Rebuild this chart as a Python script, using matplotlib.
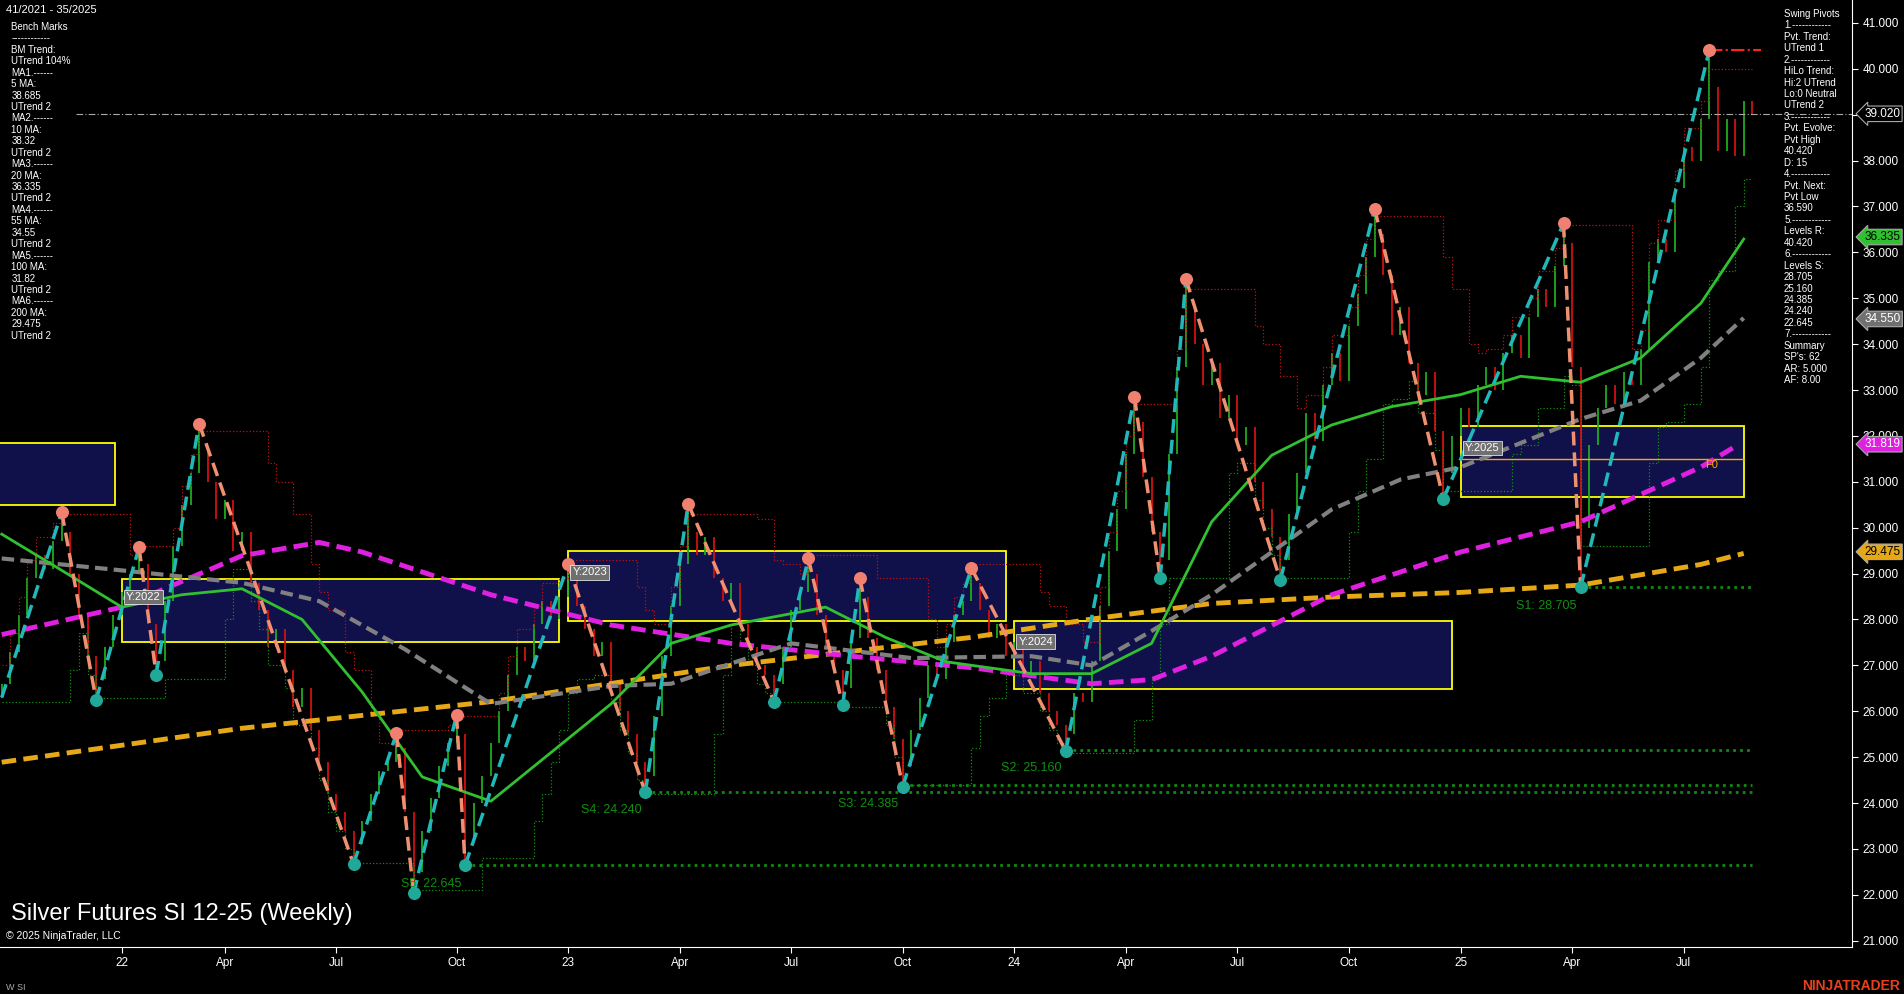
import matplotlib
matplotlib.use('Agg')
import matplotlib.pyplot as plt
import numpy as np
import pandas as pd

# weekly closes, week 41/2021 .. 35/2025
closes = [26.6, 27.3, 28.1, 28.9, 29.4, 29.1, 29.7, 29.9,
          29.0, 28.1, 27.2, 26.7,
          27.4, 28.1, 28.6, 29.0, 29.2,
          27.9, 27.1,
          28.4, 29.6, 30.5, 31.2, 31.7,
          31.0, 30.2, 30.6, 29.5, 29.9, 28.8, 28.2, 27.4, 27.8, 26.9, 26.1, 26.5, 25.6, 24.9, 24.2, 23.8, 23.4, 23.1,
          23.6, 24.2, 24.7, 24.9, 25.2,
          23.8, 22.5,
          23.4, 24.1, 24.8, 25.3, 25.5,
          23.2,
          24.0, 24.6, 25.3, 26.0, 26.8, 27.4, 27.1, 27.9, 28.4, 28.0, 28.5, 28.9,
          28.3, 27.8, 27.2, 27.5, 26.6, 26.0, 25.5, 24.9, 24.6,
          25.9, 27.2, 28.3, 29.2, 29.9,
          29.4, 29.8, 28.9, 28.4, 28.8, 27.9, 27.4, 27.0, 26.8, 26.6,
          27.4, 28.2, 28.6, 29.0,
          28.1, 27.4, 26.9, 26.5,
          27.6, 28.5,
          27.6, 26.9, 26.1, 25.4, 24.8,
          25.6, 26.3, 27.0, 26.7, 27.5, 28.1, 28.4, 28.8,
          28.2, 27.6, 27.9, 27.2, 27.5, 26.8, 27.1, 26.4, 26.0, 25.7, 25.5,
          26.4, 26.2, 27.1, 28.3, 29.5, 30.4, 31.6, 32.3,
          31.1, 29.9, 29.3,
          31.6, 33.5, 34.8,
          34.0, 33.1, 33.6, 32.4, 32.9, 31.8, 32.2, 31.0, 30.4, 29.8, 29.3,
          30.3, 31.2, 32.5, 31.9, 33.1, 33.8, 33.2, 34.4, 35.1, 35.9, 36.4,
          35.5, 34.2, 34.8, 33.6, 32.9, 33.4, 32.1, 31.2,
          32.0, 32.6, 32.2, 33.1, 33.5, 33.0, 33.8, 34.2, 33.7, 34.6, 35.2, 34.8, 35.7, 36.2,
          33.5, 30.0,
          31.8, 32.6, 33.1, 32.7, 33.4, 33.1, 33.9, 35.8, 36.3, 36.0, 37.4, 38.3, 38.0, 38.9, 39.6,
          38.2, 38.9, 38.1, 39.3, 39.02]

# swing pivots (week index, price, 1=high / 0=low)
piv_idx = [0, 7, 11, 16, 18, 23, 41, 46, 48, 53, 54, 66, 75, 80, 90, 94, 98, 100, 105, 113,
           124, 132, 135, 138, 149, 160, 168, 182, 184, 199]
piv_val = [26.3, 30.34, 26.24, 29.57, 26.8, 32.27, 22.67, 25.52, 22.03, 25.92, 22.64, 29.2, 24.23, 30.52,
           26.21, 29.33, 26.13, 28.9, 24.36, 29.12, 25.13, 32.85, 28.9, 35.42, 28.86, 36.95, 30.63,
           36.63, 28.7, 40.42]
piv_hi = [0, 1, 0, 1, 0, 1, 0, 1, 0, 1, 0, 1, 0, 1, 0, 1, 0, 1, 0, 1, 0, 1, 0, 1, 0, 1, 0, 1, 0, 1]

# moving averages (week index, value)
ma20_i = [0, 7, 14, 21, 28, 35, 42, 49, 57, 64, 71, 78, 85, 96, 103, 110, 120, 127, 134, 141, 148, 155, 162, 170, 177, 184, 191, 198, 203]
ma20_v = [29.86, 29.07, 28.27, 28.54, 28.67, 28.0, 26.42, 24.57, 24.04, 25.1, 26.16, 27.48, 27.88, 28.27,
          27.61, 27.08, 26.82, 26.82, 27.48, 30.13, 31.58, 32.24, 32.64, 32.9, 33.3, 33.17, 33.7, 34.89, 36.29]
ma55_i = [0, 14, 28, 37, 47, 57, 71, 78, 92, 106, 120, 127, 134, 141, 155, 163, 170, 184, 191, 198, 203]
ma55_v = [29.33, 29.07, 28.8, 28.4, 27.35, 26.16, 26.55, 26.6, 27.48, 27.16, 27.2, 27.0, 27.75, 28.54,
          30.4, 31.05, 31.32, 32.37, 32.77, 33.7, 34.57]
ma100_i = [0, 14, 28, 37, 42, 57, 71, 85, 99, 113, 127, 134, 141, 155, 170, 184, 198, 202]
ma100_v = [27.67, 28.27, 29.39, 29.68, 29.47, 28.54, 27.88, 27.48, 27.2, 26.95, 26.6, 26.69, 27.2, 28.54,
           29.47, 30.13, 31.32, 31.77]
ma200_i = [0, 28, 57, 85, 113, 127, 141, 155, 170, 184, 198, 203]
ma200_v = [24.89, 25.63, 26.21, 27.0, 27.61, 28.01, 28.35, 28.49, 28.59, 28.75, 29.2, 29.44]

# yearly boxes: start, end, low, high, label
box_x0 = [-5, 14, 66, 118, 170]
box_x1 = [13.2, 65, 117, 169, 203]
box_lo = [30.5, 27.5, 27.96, 26.48, 30.66]
box_hi = [31.85, 28.88, 29.49, 27.96, 32.22]
box_lbl = ['', 'Y:2022', 'Y:2023', 'Y:2024', 'Y:2025']

# support levels
sup_val = [28.705, 25.16, 24.385, 24.24, 22.645]
sup_from = [184, 124, 105, 75, 54]
sup_lbl = ['S1: 28.705', 'S2: 25.160', 'S3: 24.385', 'S4: 24.240', 'S5: 22.645']

xtick_pos = [14, 26, 39, 53, 66, 79, 92, 105, 118, 131, 144, 157, 170, 183, 196]
xtick_lbl = ['22', 'Apr', 'Jul', 'Oct', '23', 'Apr', 'Jul', 'Oct', '24', 'Apr', 'Jul', 'Oct', '25', 'Apr', 'Jul']

left_txt = ("Bench Marks\n------------\nBM Trend:\nUTrend 104%\nMA1.------\n5 MA:\n38.685\nUTrend 2\n"
            "MA2.------\n10 MA:\n38.32\nUTrend 2\nMA3.------\n20 MA:\n36.335\nUTrend 2\nMA4.------\n"
            "55 MA:\n34.55\nUTrend 2\nMA5.------\n100 MA:\n31.82\nUTrend 2\nMA6.------\n200 MA:\n29.475\nUTrend 2")
right_txt = ("Swing Pivots\n1.------------\nPvt. Trend:\nUTrend 1\n2.------------\nHiLo Trend:\nHi:2 UTrend\n"
             "Lo:0 Neutral\nUTrend 2\n3.------------\nPvt. Evolve:\nPvt High\n40.420\nD: 15\n4.------------\n"
             "Pvt. Next:\nPvt Low\n36.590\n5.------------\nLevels R:\n40.420\n6.------------\nLevels S:\n"
             "28.705\n25.160\n24.385\n24.240\n22.645\n7.------------\nSummary\nSP's: 62\nAR: 5.000\nAF: 8.00")

plt.rcParams['font.family'] = ['Liberation Sans', 'DejaVu Sans']
fig = plt.figure(figsize=(19.04, 9.94), dpi=100, facecolor='black')
ax = fig.add_axes([0, 0.0476, 0.9726, 0.9524], facecolor='black')
ax.set_xlim(-0.2, 215.6)
ax.set_ylim(20.87, 41.5)

n = len(closes)
idx = np.arange(n)
c = np.array(closes)
o = np.concatenate([[26.3], c[:-1]])
hi = np.maximum(o, c)
lo = np.minimum(o, c)
for i, v, h in zip(piv_idx, piv_val, piv_hi):
    if i < n:
        if h:
            hi[i] = max(hi[i], v)
        else:
            lo[i] = min(lo[i], v)
cols = np.where(c >= o, '#1faa1f', '#d01010')
ax.vlines(idx, lo, hi, colors=cols, lw=1.3, zorder=2)

# trailing step levels
s = pd.Series(c)
ax.plot(idx, s.rolling(8, min_periods=1).max() + 0.4, color='#c01010', lw=0.9, ls=':', drawstyle='steps-post', zorder=2)
ax.plot(idx, s.rolling(8, min_periods=1).min() - 0.4, color='#109010', lw=0.9, ls=':', drawstyle='steps-post', zorder=2)

# boxes
for x0, x1, l, h, t in zip(box_x0, box_x1, box_lo, box_hi, box_lbl):
    ax.add_patch(plt.Rectangle((x0, l), x1 - x0, h - l, facecolor='#10104a', edgecolor='#ffff00', lw=1.3, zorder=1))
    if t:
        ax.text(x0 + 0.5, (l + h) / 2 + 0.3, t, color='white', fontsize=8, va='center', zorder=6,
                bbox=dict(facecolor='#707070', edgecolor='white', pad=1.5, lw=0.5))
ax.plot([170, 203], [31.5, 31.5], color='#ffa500', lw=1, zorder=2)
ax.text(198.5, 31.3, 'F0', color='#ffa500', fontsize=8, zorder=6)

# moving averages
ax.plot(ma200_i, ma200_v, color='#e6a817', lw=3.5, ls=(0, (3, 1.5)), zorder=3)
ax.plot(ma100_i, ma100_v, color='#e020e0', lw=3.5, ls=(0, (3, 1.5)), zorder=3)
ax.plot(ma55_i, ma55_v, color='#808080', lw=3, ls=(0, (3, 1.5)), zorder=3)
ax.plot(ma20_i, ma20_v, color='#30c030', lw=2, zorder=3)

# support levels
for v, f, t in zip(sup_val, sup_from, sup_lbl):
    ax.plot([f, 204], [v, v], color='#108a10', lw=2, ls=(0, (1, 1.5)), zorder=2)
    ax.text(f - 7.5, v - 0.4, t, color='#109010', fontsize=9, va='center', zorder=6)

# zigzag + pivots
for k in range(len(piv_idx) - 1):
    up = piv_val[k + 1] > piv_val[k]
    ax.plot(piv_idx[k:k + 2], piv_val[k:k + 2], color='#20b8b8' if up else '#f09070',
            lw=2.5, ls=(0, (4, 2)), zorder=4)
for i, v, h in zip(piv_idx[1:], piv_val[1:], piv_hi[1:]):
    ax.scatter(i, v, s=70, color='#f08070' if h else '#20a898', zorder=5)
ax.plot([199, 205], [40.42, 40.42], color='#ff2020', lw=1.5, ls='-.', zorder=4)
ax.plot([8.6, 215.6], [39.02, 39.02], color='#aaaaaa', lw=0.8, ls=(0, (6, 2, 1, 2)), zorder=2)

# axes styling
for sp in ['top', 'left']:
    ax.spines[sp].set_visible(False)
ax.spines['right'].set_color('white')
ax.spines['bottom'].set_color('white')
ax.yaxis.tick_right()
ax.set_yticks(range(21, 42))
ax.set_yticklabels([f'{v:.3f}' for v in range(21, 42)], fontsize=8.5, color='white')
ax.set_xticks(xtick_pos)
ax.set_xticklabels(xtick_lbl, fontsize=8.5, color='white')
ax.tick_params(colors='white', length=4)

# right value tags
for v, fc, tc in [(39.02, 'black', 'white'), (36.335, '#30c030', 'black'), (34.55, '#707070', 'white'),
                  (31.819, '#e020e0', 'white'), (29.475, '#e6a817', 'black')]:
    ax.annotate(f'{v:.3f}', xy=(1.0, v), xycoords=('axes fraction', 'data'), xytext=(9, 0),
                textcoords='offset points', fontsize=8.5, color=tc, va='center', ha='left',
                bbox=dict(boxstyle='larrow,pad=0.15', facecolor=fc, edgecolor='#aaaaaa', lw=0.8), zorder=7)

fig.text(0.003, 0.995, '41/2021 - 35/2025', color='white', fontsize=8, va='top')
fig.text(0.006, 0.978, left_txt, color='white', fontsize=7, va='top', linespacing=1.18)
fig.text(0.937, 0.991, right_txt, color='white', fontsize=7, va='top', linespacing=1.18)
fig.text(0.006, 0.074, 'Silver Futures SI 12-25 (Weekly)', color='white', fontsize=17)
fig.text(0.003, 0.055, '© 2025 NinjaTrader, LLC', color='white', fontsize=7.5)
fig.text(0.003, 0.004, 'W SI', color='#aaaaaa', fontsize=6.5)
fig.text(0.998, 0.004, 'NINJATRADER', color='#e8401c', fontsize=10, ha='right', weight='bold')

fig.savefig('out.png', dpi=100, facecolor='black')
